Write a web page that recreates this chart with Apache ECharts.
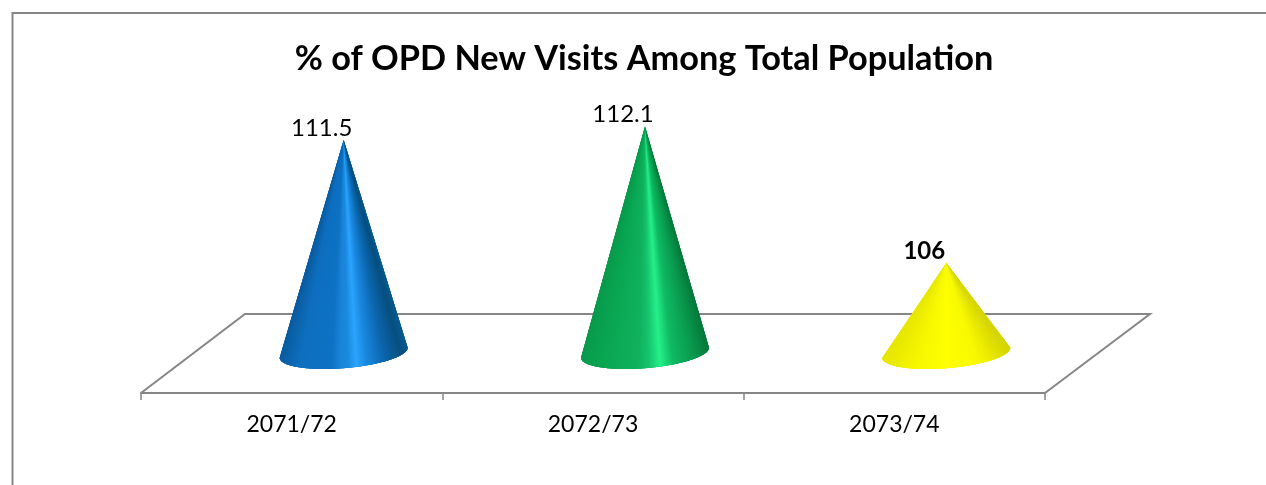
<!DOCTYPE html>
<html>
<head>
<meta charset="utf-8">
<title>% of OPD New Visits Among Total Population</title>
<style>
  html, body { margin: 0; padding: 0; background: #fff; }
  #main { width: 1266px; height: 485px; }
</style>
<script src="https://cdn.jsdelivr.net/npm/echarts@6/dist/echarts.min.js"></script>
</head>
<body>
<div id="main"></div>
<script>
var chartTitle = '% of OPD New Visits Among Total Population';
var categories = ['2071/72', '2072/73', '2073/74'];
var values = [111.5, 112.1, 106];
var valueLabels = ['111.5', '112.1', '106'];

// value the cone bases stand on, the axis itself is hidden
var baseValue = 102;
var axisMin = 100.2;
var axisMax = 114.2;

var fontName = 'Lato, "Open Sans", sans-serif';
var lineColor = '#868686';

// shading across each cone, left edge to right edge
var coneShades = [
  [[0, '#0b5c9f'], [0.15, '#0f6fbf'], [0.4, '#0e72c4'], [0.48, '#1a86da'], [0.53, '#1b88dc'], [0.6, '#2ba5ff'], [0.68, '#1a88df'], [0.82, '#0c66ad'], [0.95, '#07507f'], [1, '#0a5a90']],
  [[0, '#0a9a4c'], [0.15, '#0aa552'], [0.45, '#10b25e'], [0.53, '#16c46e'], [0.62, '#25f08a'], [0.72, '#10ba64'], [0.88, '#0a9a4e'], [1, '#067a3c']],
  [[0, '#e6e600'], [0.25, '#f6f600'], [0.5, '#ffff00'], [0.75, '#f8f800'], [1, '#d4d400']]
];
var coneMidColors = ['#0f6fbf', '#0aa552', '#f6f600'];

function shadeAt(stops, pos) {
  for (var i = 1; i < stops.length; i++) {
    if (pos <= stops[i][0]) {
      var f = (pos - stops[i - 1][0]) / (stops[i][0] - stops[i - 1][0]);
      return echarts.color.lerp(f, [stops[i - 1][1], stops[i][1]]);
    }
  }
  return stops[stops.length - 1][1];
}

// back and side edges of the floor, the front edge is the category axis
function renderFloor(params) {
  var r = params.coordSys;
  var bottom = r.y + r.height;
  return {
    type: 'polyline',
    silent: true,
    shape: { points: [[r.x, bottom], [r.x + 104, bottom - 79], [r.x + r.width + 105, bottom - 79], [r.x + r.width, bottom]] },
    style: { fill: null, stroke: lineColor, lineWidth: 2 }
  };
}

// cone built from thin slices that all meet at the tip
function renderCone(params, api) {
  var idx = api.value(0);
  var tip = api.coord([idx, api.value(1)]);
  var base = api.coord([idx, baseValue]);
  var cx = base[0] + 52;
  var cy = base[1];
  var tipX = tip[0] + 52;
  var halfWidth = 64, tilt = 5, depth = 15.5;
  var stops = coneShades[idx];
  var steps = 160;
  var rimPoints = [];
  var i;

  for (i = 0; i <= steps; i++) {
    var a = Math.PI * i / steps;
    rimPoints.push([cx - halfWidth * Math.cos(a), cy + tilt * Math.cos(a) + depth * Math.sin(a)]);
  }

  // whole cone first so the seams between slices never show the page behind
  var children = [{
    type: 'polygon',
    shape: { points: [[tipX, tip[1]]].concat(rimPoints) },
    style: { fill: coneMidColors[idx] }
  }];

  // each slice runs a bit under the next one
  for (i = 0; i < steps; i++) {
    var p0 = rimPoints[i], p1 = rimPoints[i + 1], p2 = rimPoints[Math.min(i + 3, steps)];
    var pos = ((p0[0] + p1[0]) / 2 - (cx - halfWidth)) / (2 * halfWidth);
    children.push({
      type: 'polygon',
      shape: { points: [[tipX, tip[1]], p0, p1, p2] },
      style: { fill: shadeAt(stops, pos) }
    });
  }

  children.push({
    type: 'text',
    style: {
      text: valueLabels[idx],
      x: tipX - 22,
      y: tip[1] - 12,
      align: 'center',
      verticalAlign: 'middle',
      fill: '#000',
      font: (idx === 2 ? 'bold ' : '') + '24px ' + fontName
    }
  });
  return { type: 'group', children: children };
}

var chart = echarts.init(document.getElementById('main'), null, { renderer: 'canvas' });
chart.setOption({
  animation: false,
  backgroundColor: '#fff',
  title: {
    text: chartTitle,
    left: 639,
    top: 37,
    textAlign: 'center',
    textStyle: { fontFamily: fontName, fontWeight: 'bold', fontSize: 34.3, color: '#000' }
  },
  grid: { left: 141, right: 221, top: 79.4, bottom: 92 },
  xAxis: {
    type: 'category',
    data: categories,
    axisLine: { lineStyle: { color: lineColor, width: 2 } },
    axisTick: { show: true, alignWithLabel: false, length: 7, lineStyle: { color: lineColor, width: 1.5 } },
    axisLabel: { color: '#000', fontFamily: fontName, fontSize: 23, margin: 20 }
  },
  yAxis: { type: 'value', min: axisMin, max: axisMax, show: false },
  series: [
    { type: 'custom', data: [[0, axisMin]], renderItem: renderFloor, silent: true, z: 1 },
    {
      type: 'custom',
      data: values.map(function (v, i) { return [i, v]; }),
      renderItem: renderCone,
      silent: true,
      z: 3
    }
  ],
  graphic: [{
    type: 'polyline',
    silent: true,
    shape: { points: [[12.5, 485], [12.5, 13], [1266, 13]] },
    style: { fill: null, stroke: lineColor, lineWidth: 2 }
  }]
});
</script>
</body>
</html>
